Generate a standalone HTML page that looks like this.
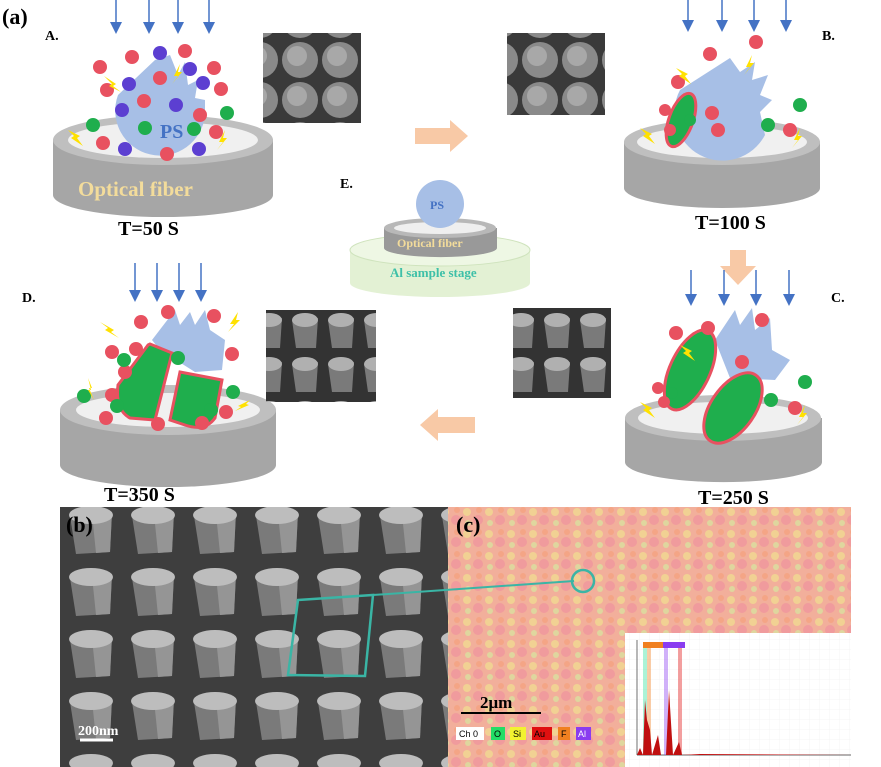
<!DOCTYPE html>
<html><head><meta charset="utf-8"><style>
html,body{margin:0;padding:0;background:#fff;}
svg{display:block;font-family:"Liberation Serif",serif;}
</style></head><body>
<svg width="881" height="767" viewBox="0 0 881 767" xmlns="http://www.w3.org/2000/svg">
<defs>
<marker id="ah" markerWidth="8" markerHeight="8" refX="4" refY="4" orient="auto"><path d="M0,0 L8,4 L0,8 z" fill="#4472c4"/></marker>
<pattern id="sem1" width="40" height="40" patternUnits="userSpaceOnUse"><rect width="40" height="40" fill="#3a3a3a"/><circle cx="20" cy="20" r="18" fill="#8a8a8a"/><circle cx="17" cy="16" r="10" fill="#a8a8a8"/></pattern>
<pattern id="sem2" width="36" height="44" patternUnits="userSpaceOnUse"><rect width="36" height="44" fill="#333"/><path d="M4,12 L30,10 L28,40 L8,40z" fill="#7a7a7a"/><ellipse cx="17" cy="12" rx="13" ry="7" fill="#b0b0b0"/></pattern>
<pattern id="semb" width="62" height="62" patternUnits="userSpaceOnUse"><rect width="62" height="62" fill="#3e3e3e"/><path d="M8,20 L50,16 L48,56 L14,58z" fill="#7a7a7a"/><path d="M30,18 L50,16 L48,56 L34,57z" fill="#959595"/><ellipse cx="29" cy="19" rx="22" ry="9" fill="#bdbdbd"/></pattern>
<pattern id="map" width="22" height="22" patternUnits="userSpaceOnUse"><rect width="22" height="22" fill="#f0a896"/><circle cx="5" cy="6" r="4" fill="#eed88a"/><circle cx="16" cy="14" r="5" fill="#ec8c98"/><circle cx="6" cy="17" r="3" fill="#d4e09a"/><circle cx="17" cy="4" r="3" fill="#f39a78"/></pattern>
<pattern id="grid" width="10" height="10" patternUnits="userSpaceOnUse"><rect width="10" height="10" fill="#fff"/><path d="M10,0V10H0" fill="none" stroke="#eee" stroke-width="0.5"/></pattern>
</defs>

<text x="2" y="24" font-size="22" font-weight="bold">(a)</text>

<!-- Disc A -->
<g>
<path d="M53,140 L53,195 A110,22 0 0 0 273,195 L273,140z" fill="#a6a6a6"/>
<ellipse cx="163" cy="140" rx="110" ry="25" fill="#bfbfbf"/>
<ellipse cx="163" cy="140" rx="95" ry="18" fill="#f0f0f0"/>
<text x="78" y="196" font-size="21" font-weight="bold" fill="#f3dc9b">Optical fiber</text>
</g>
<path d="M118,95 A45,45 0 1 0 205,115 L205,100 L195,98 L198,80 L188,85 L185,62 L178,75 L170,55 L155,60 Z" fill="#a7bfe6"/>
<text x="160" y="138" font-size="20" font-weight="bold" fill="#4472c4">PS</text>
<g>
<circle cx="100" cy="67" r="7" fill="#e85160"/><circle cx="132" cy="57" r="7" fill="#e85160"/><circle cx="185" cy="51" r="7" fill="#e85160"/><circle cx="214" cy="68" r="7" fill="#e85160"/><circle cx="107" cy="90" r="7" fill="#e85160"/><circle cx="160" cy="78" r="7" fill="#e85160"/><circle cx="144" cy="101" r="7" fill="#e85160"/><circle cx="221" cy="89" r="7" fill="#e85160"/><circle cx="200" cy="115" r="7" fill="#e85160"/><circle cx="216" cy="132" r="7" fill="#e85160"/><circle cx="103" cy="143" r="7" fill="#e85160"/><circle cx="167" cy="154" r="7" fill="#e85160"/>
<circle cx="160" cy="53" r="7" fill="#5c3fd1"/><circle cx="190" cy="69" r="7" fill="#5c3fd1"/><circle cx="129" cy="84" r="7" fill="#5c3fd1"/><circle cx="203" cy="83" r="7" fill="#5c3fd1"/><circle cx="176" cy="105" r="7" fill="#5c3fd1"/><circle cx="122" cy="110" r="7" fill="#5c3fd1"/><circle cx="125" cy="149" r="7" fill="#5c3fd1"/><circle cx="199" cy="149" r="7" fill="#5c3fd1"/>
<circle cx="93" cy="125" r="7" fill="#1fae4d"/><circle cx="145" cy="128" r="7" fill="#1fae4d"/><circle cx="194" cy="129" r="7" fill="#1fae4d"/><circle cx="227" cy="113" r="7" fill="#1fae4d"/>
</g>
<g fill="#ffe100"><path d="M104,76 l12,8 -3,2 8,6 -12,-6 3,-2z"/><path d="M180,64 l-6,12 4,0 -6,8 10,-12 -4,0z"/><path d="M68,130 l12,6 -3,2 6,8 -12,-8 3,-2z"/><path d="M225,130 l-6,12 4,0 -6,8 10,-12 -4,0z"/></g>
<g stroke="#4472c4" stroke-width="1.5" marker-end="url(#ah)"><line x1="116" y1="0" x2="116" y2="28"/><line x1="149" y1="0" x2="149" y2="28"/><line x1="178" y1="0" x2="178" y2="28"/><line x1="209" y1="0" x2="209" y2="28"/></g>
<text x="45" y="40" font-size="14" font-weight="bold">A.</text>
<text x="118" y="235" font-size="20" font-weight="bold">T=50 S</text>
<rect x="263" y="33" width="98" height="90" fill="url(#sem1)"/>

<path d="M415,128 L450,128 L450,120 L468,136 L450,152 L450,144 L415,144z" fill="#f8c9a6"/>
<rect x="507" y="33" width="98" height="82" fill="url(#sem1)"/>

<!-- Disc B -->
<path d="M624,142 L624,188 A98,20 0 0 0 820,188 L820,142z" fill="#a6a6a6"/>
<ellipse cx="722" cy="142" rx="98" ry="23" fill="#bfbfbf"/>
<ellipse cx="722" cy="142" rx="85" ry="16" fill="#f0f0f0"/>
<path d="M680,90 A42,42 0 1 0 765,135 L760,112 L772,100 L760,95 L768,75 L752,80 L755,62 L740,72 L730,58 Z" fill="#a7bfe6"/>
<ellipse cx="681" cy="120" rx="12" ry="28" transform="rotate(20 681 120)" fill="#1fae4d" stroke="#e85160" stroke-width="3"/>
<g><circle cx="678" cy="82" r="7" fill="#e85160"/><circle cx="710" cy="54" r="7" fill="#e85160"/><circle cx="756" cy="42" r="7" fill="#e85160"/><circle cx="665" cy="110" r="6" fill="#e85160"/><circle cx="670" cy="130" r="6" fill="#e85160"/><circle cx="712" cy="113" r="7" fill="#e85160"/><circle cx="718" cy="130" r="7" fill="#e85160"/><circle cx="790" cy="130" r="7" fill="#e85160"/><circle cx="800" cy="105" r="7" fill="#1fae4d"/><circle cx="768" cy="125" r="7" fill="#1fae4d"/><circle cx="690" cy="120" r="6" fill="#1fae4d"/></g>
<g fill="#ffe100"><path d="M676,68 l12,6 -3,2 6,8 -12,-8 3,-2z"/><path d="M752,55 l-6,12 4,0 -6,8 10,-12 -4,0z"/><path d="M640,128 l12,6 -3,2 6,8 -12,-8 3,-2z"/><path d="M800,128 l-6,12 4,0 -6,8 10,-12 -4,0z"/></g>
<g stroke="#4472c4" stroke-width="1.5" marker-end="url(#ah)"><line x1="688" y1="0" x2="688" y2="26"/><line x1="722" y1="0" x2="722" y2="26"/><line x1="754" y1="0" x2="754" y2="26"/><line x1="786" y1="0" x2="786" y2="26"/></g>
<text x="822" y="40" font-size="14" font-weight="bold">B.</text>
<text x="695" y="229" font-size="20" font-weight="bold">T=100 S</text>

<path d="M730,250 L746,250 L746,266 L756,266 L738,285 L720,266 L730,266z" fill="#f8c9a6"/>

<!-- E -->
<text x="340" y="188" font-size="14" font-weight="bold">E.</text>
<path d="M350,250 L350,283 A90,14 0 0 0 530,283 L530,250z" fill="#e3f1d4"/>
<ellipse cx="440" cy="250" rx="90" ry="16" fill="#eef7e4" stroke="#cfe3bd"/>
<text x="390" y="277" font-size="13" font-weight="bold" fill="#3ec0a8">Al sample stage</text>
<path d="M384,228 L384,248 A56,9 0 0 0 497,248 L497,228z" fill="#999"/>
<ellipse cx="440" cy="228" rx="56" ry="10" fill="#b8b8b8"/>
<ellipse cx="440" cy="228" rx="46" ry="6" fill="#efefef"/>
<circle cx="440" cy="204" r="24" fill="#a7bfe6"/>
<text x="430" y="209" font-size="12" font-weight="bold" fill="#4472c4">PS</text>
<text x="397" y="247" font-size="12" font-weight="bold" fill="#f3dc9b">Optical fiber</text>

<!-- Disc D -->
<path d="M60,410 L60,465 A108,22 0 0 0 276,465 L276,410z" fill="#a6a6a6"/>
<ellipse cx="168" cy="410" rx="108" ry="25" fill="#bfbfbf"/>
<ellipse cx="168" cy="410" rx="92" ry="17" fill="#f0f0f0"/>
<path d="M152,340 L175,310 L180,325 L190,312 L195,325 L205,310 L210,330 L225,340 L222,370 L195,372 L160,350z" fill="#a7bfe6"/>
<path d="M148,345 L150,344 L172,353 L155,420 L130,418 Q115,410 118,385 Z" fill="#1fae4d" stroke="#e85160" stroke-width="3"/>
<path d="M180,372 L222,380 L215,418 Q205,432 185,425 L170,420 Z" fill="#1fae4d" stroke="#e85160" stroke-width="3"/>
<g><circle cx="141" cy="322" r="7" fill="#e85160"/><circle cx="168" cy="312" r="7" fill="#e85160"/><circle cx="214" cy="316" r="7" fill="#e85160"/><circle cx="112" cy="352" r="7" fill="#e85160"/><circle cx="136" cy="349" r="7" fill="#e85160"/><circle cx="232" cy="354" r="7" fill="#e85160"/><circle cx="125" cy="372" r="7" fill="#e85160"/><circle cx="112" cy="395" r="7" fill="#e85160"/><circle cx="106" cy="418" r="7" fill="#e85160"/><circle cx="158" cy="424" r="7" fill="#e85160"/><circle cx="226" cy="412" r="7" fill="#e85160"/><circle cx="202" cy="423" r="7" fill="#e85160"/><circle cx="124" cy="360" r="7" fill="#1fae4d"/><circle cx="178" cy="358" r="7" fill="#1fae4d"/><circle cx="84" cy="396" r="7" fill="#1fae4d"/><circle cx="117" cy="406" r="7" fill="#1fae4d"/><circle cx="233" cy="392" r="7" fill="#1fae4d"/><circle cx="211" cy="410" r="7" fill="#1fae4d"/></g>
<g fill="#ffe100"><path d="M100,322 l14,8 -3,2 8,6 -14,-8 3,-2z"/><path d="M238,312 l-8,12 4,0 -6,8 12,-12 -4,0z"/><path d="M88,378 l4,10 -3,0 5,12 -6,-10 3,0z"/><path d="M250,400 l-12,6 3,1 -6,4 14,-6 -3,-1z"/></g>
<g stroke="#4472c4" stroke-width="1.5" marker-end="url(#ah)"><line x1="135" y1="263" x2="135" y2="296"/><line x1="157" y1="263" x2="157" y2="296"/><line x1="179" y1="263" x2="179" y2="296"/><line x1="201" y1="263" x2="201" y2="296"/></g>
<text x="22" y="302" font-size="14" font-weight="bold">D.</text>
<text x="104" y="501" font-size="20" font-weight="bold">T=350 S</text>
<rect x="266" y="310" width="110" height="92" fill="url(#sem2)"/>

<path d="M420,425 L438,409 L438,417 L475,417 L475,433 L438,433 L438,441z" fill="#f8c9a6"/>
<rect x="513" y="308" width="98" height="90" fill="url(#sem2)"/>

<!-- Disc C -->
<path d="M625,418 L625,462 A98,20 0 0 0 822,462 L822,418z" fill="#a6a6a6"/>
<ellipse cx="723" cy="418" rx="98" ry="23" fill="#bfbfbf"/>
<ellipse cx="723" cy="418" rx="85" ry="16" fill="#f0f0f0"/>
<path d="M715,340 L735,310 L740,325 L752,308 L755,330 L770,318 L772,350 L790,360 L775,380 L730,378z" fill="#a7bfe6"/>
<ellipse cx="690" cy="370" rx="20" ry="43" transform="rotate(25 690 370)" fill="#1fae4d" stroke="#e85160" stroke-width="3"/>
<ellipse cx="733" cy="408" rx="22" ry="40" transform="rotate(35 733 408)" fill="#1fae4d" stroke="#e85160" stroke-width="3"/>
<g><circle cx="676" cy="333" r="7" fill="#e85160"/><circle cx="708" cy="328" r="7" fill="#e85160"/><circle cx="762" cy="320" r="7" fill="#e85160"/><circle cx="658" cy="388" r="6" fill="#e85160"/><circle cx="664" cy="402" r="6" fill="#e85160"/><circle cx="742" cy="362" r="7" fill="#e85160"/><circle cx="795" cy="408" r="7" fill="#e85160"/><circle cx="805" cy="382" r="7" fill="#1fae4d"/><circle cx="771" cy="400" r="7" fill="#1fae4d"/><circle cx="672" cy="393" r="6" fill="#1fae4d"/></g>
<g fill="#ffe100"><path d="M680,345 l12,6 -3,2 6,8 -12,-8 3,-2z"/><path d="M640,402 l12,6 -3,2 6,8 -12,-8 3,-2z"/><path d="M805,405 l-6,12 4,0 -6,8 10,-12 -4,0z"/></g>
<g stroke="#4472c4" stroke-width="1.5" marker-end="url(#ah)"><line x1="691" y1="270" x2="691" y2="300"/><line x1="724" y1="270" x2="724" y2="300"/><line x1="756" y1="270" x2="756" y2="300"/><line x1="789" y1="270" x2="789" y2="300"/></g>
<text x="831" y="302" font-size="14" font-weight="bold">C.</text>

<!-- (b) -->
<rect x="60" y="507" width="388" height="260" fill="url(#semb)"/>
<text x="66" y="532" font-size="22" font-weight="bold">(b)</text>
<line x1="80" y1="740" x2="113" y2="740" stroke="#fff" stroke-width="3"/>
<text x="78" y="735" font-size="14" font-weight="bold" fill="#fff">200nm</text>
<path d="M298,600 L373,595 L365,676 L288,675 Z" fill="none" stroke="#3ab5a5" stroke-width="2.5"/>

<!-- (c) -->
<rect x="448" y="507" width="403" height="260" fill="url(#map)"/>
<rect x="448" y="507" width="403" height="260" fill="#f7c0a8" opacity="0.3"/>
<text x="456" y="532" font-size="22" font-weight="bold">(c)</text>
<text x="698" y="504" font-size="20" font-weight="bold">T=250 S</text>
<line x1="373" y1="595" x2="574" y2="581" stroke="#3ab5a5" stroke-width="2"/>
<circle cx="583" cy="581" r="11" fill="none" stroke="#3ab5a5" stroke-width="2.5"/>
<line x1="461" y1="713" x2="541" y2="713" stroke="#000" stroke-width="2"/>
<text x="480" y="708" font-size="17" font-weight="bold">2μm</text>
<g font-family="Liberation Sans,sans-serif" font-size="9">
<rect x="456" y="727" width="28" height="13" fill="#fff"/><text x="459" y="737">Ch 0</text>
<rect x="491" y="727" width="14" height="13" fill="#22dd66"/><text x="494" y="737">O</text>
<rect x="510" y="727" width="16" height="13" fill="#f2f230"/><text x="513" y="737">Si</text>
<rect x="532" y="727" width="20" height="13" fill="#e01010"/><text x="534" y="737">Au</text>
<rect x="558" y="727" width="12" height="13" fill="#f08020"/><text x="561" y="737">F</text>
<rect x="576" y="727" width="15" height="13" fill="#8a3cf0"/><text x="578" y="737" fill="#fff">Al</text>
</g>
<rect x="625" y="633" width="226" height="134" fill="url(#grid)"/>
<line x1="637" y1="640" x2="637" y2="755" stroke="#333" stroke-width="0.7"/>
<line x1="637" y1="755" x2="851" y2="755" stroke="#333" stroke-width="0.7"/>
<rect x="643" y="642" width="4" height="113" fill="#2ee09a" opacity="0.4"/>
<rect x="647" y="642" width="4" height="113" fill="#f08020" opacity="0.4"/>
<rect x="664" y="642" width="4" height="113" fill="#8a3cf0" opacity="0.4"/>
<rect x="678" y="642" width="4" height="113" fill="#e01010" opacity="0.4"/>
<path d="M637,755 L640,748 L643,755 L645,700 L647,720 L650,730 L652,755 L658,735 L661,755 L666,755 L669,690 L673,755 L679,742 L682,755 L700,754 L851,755z" fill="#c01010"/>
<rect x="643" y="642" width="22" height="6" fill="#f08020"/><rect x="663" y="642" width="22" height="6" fill="#8a3cf0"/>
</svg>
</body></html>
